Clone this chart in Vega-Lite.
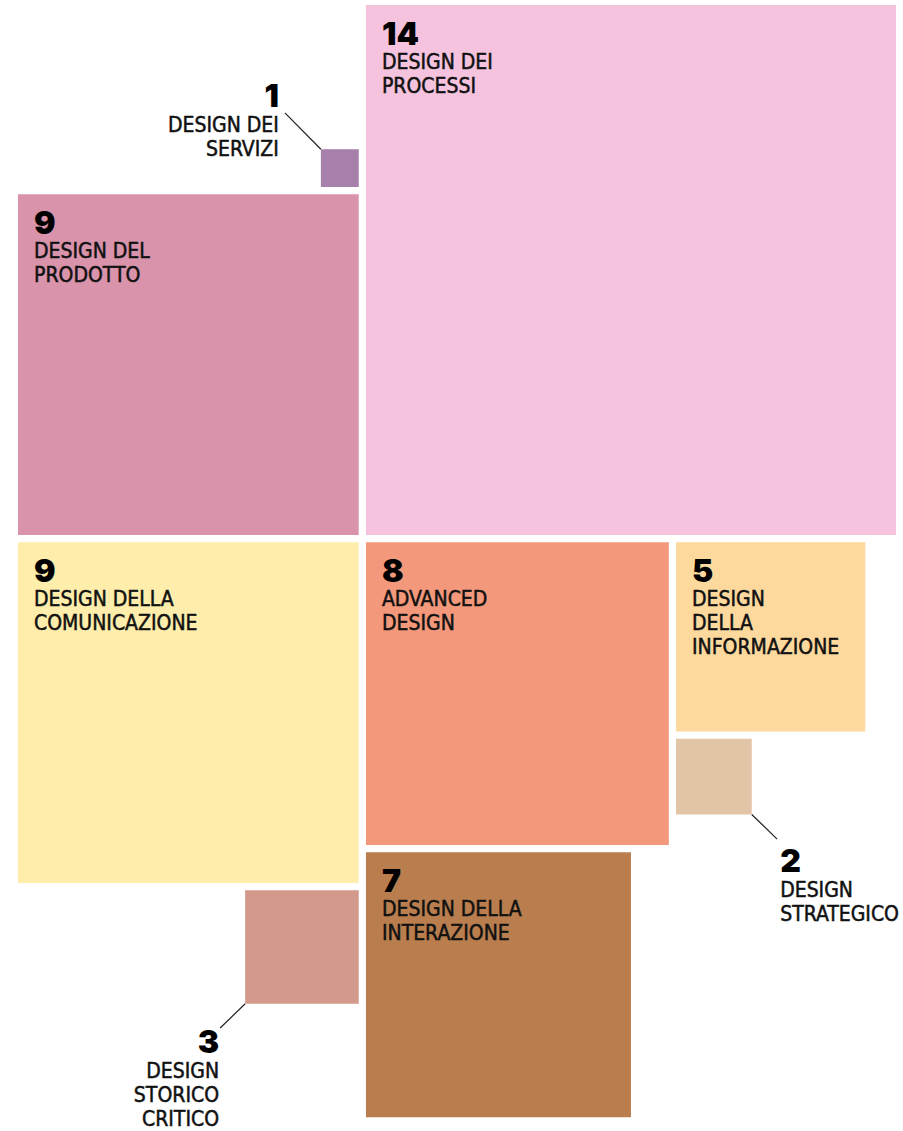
{
  "$schema": "https://vega.github.io/schema/vega-lite/v6.json",
  "width": 903,
  "height": 1131,
  "autosize": "none",
  "padding": 0,
  "background": "white",
  "config": {"view": {"stroke": null}},
  "datasets": {
    "aree": [
      {"area": "Design dei processi", "testo": "DESIGN DEI\nPROCESSI", "valore": 14, "x0": 9.19, "x1": 23.19, "y0": 0, "y1": 14, "etichetta": "interna"},
      {"area": "Design dei servizi", "testo": "DESIGN DEI\nSERVIZI", "valore": 1, "x0": 8, "x1": 9, "y0": 3.81, "y1": 4.81, "etichetta": "esterna"},
      {"area": "Design del prodotto", "testo": "DESIGN DEL\nPRODOTTO", "valore": 9, "x0": 0, "x1": 9, "y0": 5, "y1": 14, "etichetta": "interna"},
      {"area": "Design della comunicazione", "testo": "DESIGN DELLA\nCOMUNICAZIONE", "valore": 9, "x0": 0, "x1": 9, "y0": 14.19, "y1": 23.19, "etichetta": "interna"},
      {"area": "Advanced design", "testo": "ADVANCED\nDESIGN", "valore": 8, "x0": 9.19, "x1": 17.19, "y0": 14.19, "y1": 22.19, "etichetta": "interna"},
      {"area": "Design della informazione", "testo": "DESIGN\nDELLA\nINFORMAZIONE", "valore": 5, "x0": 17.38, "x1": 22.38, "y0": 14.19, "y1": 19.19, "etichetta": "interna"},
      {"area": "Design strategico", "testo": "DESIGN\nSTRATEGICO", "valore": 2, "x0": 17.38, "x1": 19.38, "y0": 19.38, "y1": 21.38, "etichetta": "esterna"},
      {"area": "Design della interazione", "testo": "DESIGN DELLA\nINTERAZIONE", "valore": 7, "x0": 9.19, "x1": 16.19, "y0": 22.38, "y1": 29.38, "etichetta": "interna"},
      {"area": "Design storico critico", "testo": "DESIGN\nSTORICO\nCRITICO", "valore": 3, "x0": 6, "x1": 9, "y0": 23.38, "y1": 26.38, "etichetta": "esterna"}
    ],
    "richiami": [
      {"area": "Design dei servizi", "testo": "DESIGN DEI\nSERVIZI", "valore": 1, "cx": 8, "cy": 3.81, "ex": 7.05, "ey": 2.85, "tx": 6.89, "ty": 2.69, "lato": "destra"},
      {"area": "Design strategico", "testo": "DESIGN\nSTRATEGICO", "valore": 2, "cx": 19.38, "cy": 21.38, "ex": 20.05, "ey": 22.03, "tx": 20.13, "ty": 22.9, "lato": "sinistra"},
      {"area": "Design storico critico", "testo": "DESIGN\nSTORICO\nCRITICO", "valore": 3, "cx": 6, "cy": 26.38, "ex": 5.34, "ey": 27.02, "tx": 5.31, "ty": 27.68, "lato": "destra"}
    ]
  },
  "layer": [
    {
      "data": {"name": "aree"},
      "mark": {"type": "rect"},
      "encoding": {
        "x": {"field": "x0", "type": "quantitative", "scale": {"domain": [-0.4754, 23.375], "nice": false, "zero": false}, "axis": null},
        "x2": {"field": "x1"},
        "y": {"field": "y0", "type": "quantitative", "scale": {"domain": [-0.132, 29.741], "reverse": true, "nice": false, "zero": false}, "axis": null},
        "y2": {"field": "y1"},
        "color": {
          "field": "area", "type": "nominal", "legend": null,
          "scale": {
            "domain": ["Design dei processi", "Design dei servizi", "Design del prodotto", "Design della comunicazione", "Advanced design", "Design della informazione", "Design strategico", "Design della interazione", "Design storico critico"],
            "range": ["#F5C3DE", "#A67FAB", "#D993AB", "#FEEDAB", "#F3987B", "#FED99E", "#E2C4A7", "#BA7E4E", "#D3998B"]
          }
        }
      }
    },
    {
      "data": {"name": "richiami"},
      "mark": {"type": "rule", "color": "#222222", "strokeWidth": 1.2},
      "encoding": {
        "x": {"field": "cx", "type": "quantitative", "scale": {"domain": [-0.4754, 23.375], "nice": false, "zero": false}, "axis": null},
        "x2": {"field": "ex"},
        "y": {"field": "cy", "type": "quantitative", "scale": {"domain": [-0.132, 29.741], "reverse": true, "nice": false, "zero": false}, "axis": null},
        "y2": {"field": "ey"}
      }
    },
    {
      "data": {"name": "aree"},
      "transform": [{"filter": "datum.etichetta === 'interna'"}],
      "mark": {"type": "text", "align": "left", "baseline": "alphabetic", "dx": 16, "dy": 40, "font": "Inter", "fontWeight": 900, "fontSize": 32, "color": "#000000"},
      "encoding": {
        "x": {"field": "x0", "type": "quantitative", "scale": {"domain": [-0.4754, 23.375], "nice": false, "zero": false}, "axis": null},
        "y": {"field": "y0", "type": "quantitative", "scale": {"domain": [-0.132, 29.741], "reverse": true, "nice": false, "zero": false}, "axis": null},
        "text": {"field": "valore", "type": "nominal"}
      }
    },
    {
      "data": {"name": "aree"},
      "transform": [{"filter": "datum.etichetta === 'interna'"}],
      "mark": {"type": "text", "align": "left", "baseline": "alphabetic", "dx": 16, "dy": 64, "lineBreak": "\n", "lineHeight": 24, "font": "DejaVu Sans Condensed, sans-serif", "fontSize": 21, "color": "#111111", "stroke": "#111111", "strokeWidth": 0.5},
      "encoding": {
        "x": {"field": "x0", "type": "quantitative", "scale": {"domain": [-0.4754, 23.375], "nice": false, "zero": false}, "axis": null},
        "y": {"field": "y0", "type": "quantitative", "scale": {"domain": [-0.132, 29.741], "reverse": true, "nice": false, "zero": false}, "axis": null},
        "text": {"field": "testo", "type": "nominal"}
      }
    },
    {
      "data": {"name": "richiami"},
      "transform": [{"filter": "datum.lato === 'destra'"}],
      "mark": {"type": "text", "align": "right", "baseline": "alphabetic", "font": "Inter", "fontWeight": 900, "fontSize": 32, "color": "#000000"},
      "encoding": {
        "x": {"field": "tx", "type": "quantitative", "scale": {"domain": [-0.4754, 23.375], "nice": false, "zero": false}, "axis": null},
        "y": {"field": "ty", "type": "quantitative", "scale": {"domain": [-0.132, 29.741], "reverse": true, "nice": false, "zero": false}, "axis": null},
        "text": {"field": "valore", "type": "nominal"}
      }
    },
    {
      "data": {"name": "richiami"},
      "transform": [{"filter": "datum.lato === 'destra'"}],
      "mark": {"type": "text", "align": "right", "baseline": "alphabetic", "dy": 25, "lineBreak": "\n", "lineHeight": 24, "font": "DejaVu Sans Condensed, sans-serif", "fontSize": 21, "color": "#111111", "stroke": "#111111", "strokeWidth": 0.5},
      "encoding": {
        "x": {"field": "tx", "type": "quantitative", "scale": {"domain": [-0.4754, 23.375], "nice": false, "zero": false}, "axis": null},
        "y": {"field": "ty", "type": "quantitative", "scale": {"domain": [-0.132, 29.741], "reverse": true, "nice": false, "zero": false}, "axis": null},
        "text": {"field": "testo", "type": "nominal"}
      }
    },
    {
      "data": {"name": "richiami"},
      "transform": [{"filter": "datum.lato === 'sinistra'"}],
      "mark": {"type": "text", "align": "left", "baseline": "alphabetic", "font": "Inter", "fontWeight": 900, "fontSize": 32, "color": "#000000"},
      "encoding": {
        "x": {"field": "tx", "type": "quantitative", "scale": {"domain": [-0.4754, 23.375], "nice": false, "zero": false}, "axis": null},
        "y": {"field": "ty", "type": "quantitative", "scale": {"domain": [-0.132, 29.741], "reverse": true, "nice": false, "zero": false}, "axis": null},
        "text": {"field": "valore", "type": "nominal"}
      }
    },
    {
      "data": {"name": "richiami"},
      "transform": [{"filter": "datum.lato === 'sinistra'"}],
      "mark": {"type": "text", "align": "left", "baseline": "alphabetic", "dy": 25, "lineBreak": "\n", "lineHeight": 24, "font": "DejaVu Sans Condensed, sans-serif", "fontSize": 21, "color": "#111111", "stroke": "#111111", "strokeWidth": 0.5},
      "encoding": {
        "x": {"field": "tx", "type": "quantitative", "scale": {"domain": [-0.4754, 23.375], "nice": false, "zero": false}, "axis": null},
        "y": {"field": "ty", "type": "quantitative", "scale": {"domain": [-0.132, 29.741], "reverse": true, "nice": false, "zero": false}, "axis": null},
        "text": {"field": "testo", "type": "nominal"}
      }
    }
  ]
}
